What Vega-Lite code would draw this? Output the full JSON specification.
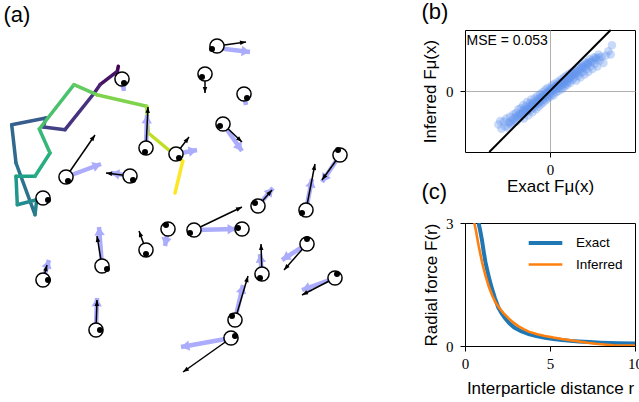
{
  "$schema": "https://vega.github.io/schema/vega-lite/v6.json",
  "background": "white",
  "padding": {"left": 0, "top": 0, "right": -4, "bottom": 0},
  "bounds": "flush",
  "spacing": 45,
  "resolve": {"scale": {"color": "independent", "strokeWidth": "independent"}, "legend": {"color": "independent", "strokeWidth": "independent"}},
  "config": {
    "view": {"stroke": null},
    "font": "Liberation Sans",
    "title": {"font": "Liberation Sans", "fontSize": 22, "fontWeight": "normal", "color": "black", "anchor": "start", "frame": "group"},
    "axis": {"labelFont": "Liberation Serif", "labelFontSize": 15, "labelColor": "black", "titleFont": "Liberation Sans", "titleFontSize": 17, "titleFontWeight": "normal", "titleColor": "black", "tickColor": "black", "tickSize": 5, "tickWidth": 1, "domain": false, "grid": false, "labelPadding": 5, "labelFlush": false, "format": "d"}
  },
  "datasets": {
    "traj": [
      {"seg": 0, "x": 118.3, "y": 63.3, "x2": 117.3, "y2": 68.3},
      {"seg": 1, "x": 117.3, "y": 68.3, "x2": 100, "y2": 81.7},
      {"seg": 2, "x": 100, "y": 81.7, "x2": 94.3, "y2": 90},
      {"seg": 3, "x": 94.3, "y": 90, "x2": 65, "y2": 126.7},
      {"seg": 4, "x": 65, "y": 126.7, "x2": 43.3, "y2": 124},
      {"seg": 5, "x": 43.3, "y": 124, "x2": 46, "y2": 115},
      {"seg": 6, "x": 46, "y": 115, "x2": 11.7, "y2": 121.7},
      {"seg": 7, "x": 11.7, "y": 121.7, "x2": 16, "y2": 160},
      {"seg": 8, "x": 16, "y": 160, "x2": 35, "y2": 211.7},
      {"seg": 9, "x": 35, "y": 211.7, "x2": 36.7, "y2": 196.7},
      {"seg": 10, "x": 36.7, "y": 196.7, "x2": 17.3, "y2": 201.7},
      {"seg": 11, "x": 17.3, "y": 201.7, "x2": 16, "y2": 173.3},
      {"seg": 12, "x": 16, "y": 173.3, "x2": 35, "y2": 173.3},
      {"seg": 13, "x": 35, "y": 173.3, "x2": 50, "y2": 150},
      {"seg": 14, "x": 50, "y": 150, "x2": 39.3, "y2": 126},
      {"seg": 15, "x": 39.3, "y": 126, "x2": 74, "y2": 81.7},
      {"seg": 16, "x": 74, "y": 81.7, "x2": 96.7, "y2": 91.7},
      {"seg": 17, "x": 96.7, "y": 91.7, "x2": 146.7, "y2": 103.3},
      {"seg": 18, "x": 146.7, "y": 103.3, "x2": 148.3, "y2": 130},
      {"seg": 19, "x": 148.3, "y": 130, "x2": 170, "y2": 148},
      {"seg": 20, "x": 170, "y": 148, "x2": 182.7, "y2": 158.3},
      {"seg": 21, "x": 182.7, "y": 158.3, "x2": 175, "y2": 190}
    ],
    "blue": [
      {"x": 217, "y": 45, "x2": 250, "y2": 49, "ang": 97},
      {"x": 244, "y": 91, "x2": 246, "y2": 102, "ang": 170},
      {"x": 223, "y": 121, "x2": 242, "y2": 148, "ang": 145},
      {"x": 122, "y": 76, "x2": 124, "y2": 88, "ang": 171},
      {"x": 146, "y": 145, "x2": 147, "y2": 112, "ang": 2},
      {"x": 176, "y": 151, "x2": 197, "y2": 147, "ang": 79},
      {"x": 66, "y": 174, "x2": 101, "y2": 161, "ang": 70},
      {"x": 130, "y": 173, "x2": 111, "y2": 170, "ang": -81},
      {"x": 194, "y": 227, "x2": 236, "y2": 226, "ang": 89},
      {"x": 258, "y": 203, "x2": 273, "y2": 185, "ang": 40},
      {"x": 306, "y": 207, "x2": 312, "y2": 176, "ang": 11},
      {"x": 340, "y": 152, "x2": 322, "y2": 179, "ang": -146},
      {"x": 168, "y": 226, "x2": 165, "y2": 243, "ang": -170},
      {"x": 102, "y": 263, "x2": 99, "y2": 224, "ang": -4},
      {"x": 43, "y": 277, "x2": 49, "y2": 257, "ang": 17},
      {"x": 96, "y": 327, "x2": 97, "y2": 295, "ang": 2},
      {"x": 262, "y": 271, "x2": 260, "y2": 251, "ang": -6},
      {"x": 307, "y": 241, "x2": 282, "y2": 257, "ang": -123},
      {"x": 335, "y": 275, "x2": 302, "y2": 287, "ang": -110},
      {"x": 235, "y": 317, "x2": 243, "y2": 282, "ang": 13},
      {"x": 231, "y": 335, "x2": 181, "y2": 344, "ang": -100}
    ],
    "black": [
      {"x": 217, "y": 43, "x2": 246, "y2": 39, "ang": 82},
      {"x": 205, "y": 71, "x2": 205, "y2": 90, "ang": 180},
      {"x": 223, "y": 121, "x2": 242, "y2": 139, "ang": 133},
      {"x": 146, "y": 145, "x2": 148, "y2": 104, "ang": 3},
      {"x": 176, "y": 151, "x2": 189, "y2": 134, "ang": 37},
      {"x": 66, "y": 174, "x2": 95, "y2": 132, "ang": 35},
      {"x": 130, "y": 173, "x2": 106, "y2": 170, "ang": -83},
      {"x": 194, "y": 227, "x2": 242, "y2": 204, "ang": 64},
      {"x": 258, "y": 203, "x2": 272, "y2": 187, "ang": 41},
      {"x": 306, "y": 207, "x2": 315, "y2": 161, "ang": 11},
      {"x": 340, "y": 152, "x2": 322, "y2": 177, "ang": -144},
      {"x": 146, "y": 247, "x2": 139, "y2": 228, "ang": -20},
      {"x": 102, "y": 263, "x2": 97, "y2": 233, "ang": -9},
      {"x": 43, "y": 277, "x2": 47, "y2": 262, "ang": 15},
      {"x": 96, "y": 327, "x2": 97, "y2": 297, "ang": 2},
      {"x": 262, "y": 271, "x2": 261, "y2": 241, "ang": -2},
      {"x": 307, "y": 241, "x2": 284, "y2": 267, "ang": -139},
      {"x": 335, "y": 275, "x2": 302, "y2": 292, "ang": -117},
      {"x": 235, "y": 317, "x2": 248, "y2": 273, "ang": 16},
      {"x": 231, "y": 335, "x2": 183, "y2": 369, "ang": -125}
    ],
    "parts": [
      {"x": 217, "y": 43, "px": 212, "py": 46},
      {"x": 205, "y": 71, "px": 202, "py": 74},
      {"x": 244, "y": 91, "px": 247, "py": 95},
      {"x": 223, "y": 121, "px": 220, "py": 123},
      {"x": 122, "y": 76, "px": 124, "py": 80},
      {"x": 146, "y": 145, "px": 145, "py": 149},
      {"x": 176, "y": 151, "px": 179, "py": 155},
      {"x": 66, "y": 174, "px": 68, "py": 178},
      {"x": 130, "y": 173, "px": 133, "py": 177},
      {"x": 43, "y": 195, "px": 48, "py": 197},
      {"x": 194, "y": 227, "px": 190, "py": 230},
      {"x": 242, "y": 226, "px": 238, "py": 225},
      {"x": 258, "y": 203, "px": 255, "py": 200},
      {"x": 306, "y": 207, "px": 302, "py": 210},
      {"x": 340, "y": 152, "px": 338, "py": 147},
      {"x": 168, "y": 226, "px": 166, "py": 222},
      {"x": 146, "y": 247, "px": 146, "py": 251},
      {"x": 102, "y": 263, "px": 107, "py": 266},
      {"x": 43, "y": 277, "px": 48, "py": 277},
      {"x": 96, "y": 327, "px": 100, "py": 327},
      {"x": 262, "y": 271, "px": 260, "py": 275},
      {"x": 307, "y": 241, "px": 307, "py": 236},
      {"x": 335, "y": 275, "px": 337, "py": 271},
      {"x": 235, "y": 317, "px": 232, "py": 313},
      {"x": 231, "y": 335, "px": 235, "py": 333}
    ],
    "scatter": [
      {"ex": -0.85, "inf": -0.55}, {"ex": -0.82, "inf": -0.49}, {"ex": -0.8, "inf": -0.62}, {"ex": -0.76, "inf": -0.5},
      {"ex": -0.74, "inf": -0.58}, {"ex": -0.72, "inf": -0.45}, {"ex": -0.7, "inf": -0.6}, {"ex": -0.68, "inf": -0.52},
      {"ex": -0.66, "inf": -0.42}, {"ex": -0.64, "inf": -0.55}, {"ex": -0.62, "inf": -0.47}, {"ex": -0.6, "inf": -0.38},
      {"ex": -0.6, "inf": -0.52}, {"ex": -0.58, "inf": -0.44}, {"ex": -0.56, "inf": -0.36}, {"ex": -0.55, "inf": -0.5},
      {"ex": -0.53, "inf": -0.41}, {"ex": -0.52, "inf": -0.3}, {"ex": -0.5, "inf": -0.45}, {"ex": -0.49, "inf": -0.37},
      {"ex": -0.48, "inf": -0.28}, {"ex": -0.46, "inf": -0.4}, {"ex": -0.45, "inf": -0.33}, {"ex": -0.44, "inf": -0.23},
      {"ex": -0.43, "inf": -0.45}, {"ex": -0.42, "inf": -0.3}, {"ex": -0.4, "inf": -0.36}, {"ex": -0.39, "inf": -0.25},
      {"ex": -0.38, "inf": -0.18}, {"ex": -0.37, "inf": -0.33}, {"ex": -0.36, "inf": -0.4}, {"ex": -0.35, "inf": -0.27},
      {"ex": -0.33, "inf": -0.2}, {"ex": -0.32, "inf": -0.31}, {"ex": -0.31, "inf": -0.14}, {"ex": -0.3, "inf": -0.24},
      {"ex": -0.29, "inf": -0.35}, {"ex": -0.28, "inf": -0.19}, {"ex": -0.27, "inf": -0.27}, {"ex": -0.25, "inf": -0.12},
      {"ex": -0.24, "inf": -0.22}, {"ex": -0.23, "inf": -0.3}, {"ex": -0.22, "inf": -0.16}, {"ex": -0.21, "inf": -0.08},
      {"ex": -0.2, "inf": -0.2}, {"ex": -0.19, "inf": -0.26}, {"ex": -0.18, "inf": -0.12}, {"ex": -0.17, "inf": -0.18},
      {"ex": -0.16, "inf": -0.05}, {"ex": -0.15, "inf": -0.22}, {"ex": -0.14, "inf": -0.1}, {"ex": -0.13, "inf": -0.15},
      {"ex": -0.12, "inf": -0.02}, {"ex": -0.11, "inf": -0.19}, {"ex": -0.1, "inf": -0.08}, {"ex": -0.09, "inf": -0.12},
      {"ex": -0.08, "inf": 0.02}, {"ex": -0.07, "inf": -0.15}, {"ex": -0.06, "inf": -0.04}, {"ex": -0.05, "inf": -0.09},
      {"ex": -0.04, "inf": 0.05}, {"ex": -0.03, "inf": -0.12}, {"ex": -0.02, "inf": -0.01}, {"ex": -0.01, "inf": -0.06},
      {"ex": 0.0, "inf": 0.04}, {"ex": 0.01, "inf": -0.09}, {"ex": 0.02, "inf": 0.01}, {"ex": 0.03, "inf": 0.09},
      {"ex": 0.04, "inf": -0.04}, {"ex": 0.05, "inf": 0.05}, {"ex": 0.06, "inf": -0.07}, {"ex": 0.07, "inf": 0.12},
      {"ex": 0.08, "inf": 0.02}, {"ex": 0.09, "inf": 0.07}, {"ex": 0.1, "inf": -0.02}, {"ex": 0.11, "inf": 0.1},
      {"ex": 0.12, "inf": 0.04}, {"ex": 0.13, "inf": 0.15}, {"ex": 0.14, "inf": 0.0}, {"ex": 0.15, "inf": 0.09},
      {"ex": 0.16, "inf": 0.13}, {"ex": 0.17, "inf": 0.05}, {"ex": 0.18, "inf": 0.19}, {"ex": 0.19, "inf": 0.09},
      {"ex": 0.2, "inf": 0.03}, {"ex": 0.21, "inf": 0.15}, {"ex": 0.22, "inf": 0.11}, {"ex": 0.23, "inf": 0.22},
      {"ex": 0.24, "inf": 0.07}, {"ex": 0.25, "inf": 0.17}, {"ex": 0.26, "inf": 0.12}, {"ex": 0.27, "inf": 0.25},
      {"ex": 0.28, "inf": 0.1}, {"ex": 0.29, "inf": 0.19}, {"ex": 0.3, "inf": 0.15}, {"ex": 0.31, "inf": 0.28},
      {"ex": 0.32, "inf": 0.2}, {"ex": 0.33, "inf": 0.13}, {"ex": 0.35, "inf": 0.24}, {"ex": 0.36, "inf": 0.31},
      {"ex": 0.37, "inf": 0.18}, {"ex": 0.38, "inf": 0.27}, {"ex": 0.4, "inf": 0.22}, {"ex": 0.41, "inf": 0.35},
      {"ex": 0.42, "inf": 0.28}, {"ex": 0.43, "inf": 0.17}, {"ex": 0.45, "inf": 0.32}, {"ex": 0.46, "inf": 0.25},
      {"ex": 0.47, "inf": 0.4}, {"ex": 0.49, "inf": 0.3}, {"ex": 0.5, "inf": 0.22}, {"ex": 0.51, "inf": 0.37},
      {"ex": 0.53, "inf": 0.43}, {"ex": 0.54, "inf": 0.31}, {"ex": 0.56, "inf": 0.39}, {"ex": 0.57, "inf": 0.27},
      {"ex": 0.58, "inf": 0.47}, {"ex": 0.6, "inf": 0.36}, {"ex": 0.62, "inf": 0.44}, {"ex": 0.63, "inf": 0.31},
      {"ex": 0.65, "inf": 0.52}, {"ex": 0.66, "inf": 0.4}, {"ex": 0.68, "inf": 0.48}, {"ex": 0.7, "inf": 0.36},
      {"ex": 0.72, "inf": 0.55}, {"ex": 0.74, "inf": 0.45}, {"ex": 0.76, "inf": 0.52}, {"ex": 0.78, "inf": 0.4},
      {"ex": 0.8, "inf": 0.6}, {"ex": 0.82, "inf": 0.5}, {"ex": 0.85, "inf": 0.56}, {"ex": 0.88, "inf": 0.46},
      {"ex": 0.92, "inf": 0.58}, {"ex": 0.96, "inf": 0.65}, {"ex": 1.02, "inf": 0.75}, {"ex": 1.0, "inf": 0.6},
      {"ex": -0.45, "inf": -0.36}, {"ex": -0.4, "inf": -0.3}, {"ex": -0.35, "inf": -0.3}, {"ex": -0.3, "inf": -0.22},
      {"ex": -0.25, "inf": -0.2}, {"ex": -0.2, "inf": -0.15}, {"ex": -0.15, "inf": -0.12}, {"ex": -0.1, "inf": -0.06},
      {"ex": -0.05, "inf": -0.03}, {"ex": 0.0, "inf": -0.01}, {"ex": 0.05, "inf": 0.03}, {"ex": 0.1, "inf": 0.07},
      {"ex": 0.15, "inf": 0.1}, {"ex": 0.2, "inf": 0.14}, {"ex": 0.25, "inf": 0.18}, {"ex": 0.3, "inf": 0.21},
      {"ex": 0.35, "inf": 0.25}, {"ex": 0.4, "inf": 0.29}, {"ex": 0.45, "inf": 0.33}, {"ex": 0.5, "inf": 0.36},
      {"ex": 0.55, "inf": 0.4}, {"ex": 0.6, "inf": 0.44}, {"ex": 0.65, "inf": 0.47}, {"ex": 0.7, "inf": 0.5},
      {"ex": -0.55, "inf": -0.42}, {"ex": -0.5, "inf": -0.39}, {"ex": -0.65, "inf": -0.5}, {"ex": 0.75, "inf": 0.55},
      {"ex": 0.8, "inf": 0.55}, {"ex": -0.28, "inf": -0.25}, {"ex": -0.18, "inf": -0.17}, {"ex": -0.08, "inf": -0.08},
      {"ex": 0.02, "inf": 0.0}, {"ex": 0.12, "inf": 0.08}, {"ex": 0.22, "inf": 0.16}, {"ex": 0.32, "inf": 0.23},
      {"ex": 0.42, "inf": 0.3}, {"ex": 0.52, "inf": 0.39}, {"ex": 0.62, "inf": 0.46}, {"ex": -0.38, "inf": -0.32}
    ],
    "force": [
      {"series": "Exact", "r": 0.8, "F": 3.0}, {"series": "Exact", "r": 0.9, "F": 2.8}, {"series": "Exact", "r": 1.0, "F": 2.58},
      {"series": "Exact", "r": 1.1, "F": 2.3}, {"series": "Exact", "r": 1.2, "F": 2.05}, {"series": "Exact", "r": 1.3, "F": 1.86},
      {"series": "Exact", "r": 1.45, "F": 1.6}, {"series": "Exact", "r": 1.6, "F": 1.38}, {"series": "Exact", "r": 1.75, "F": 1.18},
      {"series": "Exact", "r": 1.95, "F": 0.95}, {"series": "Exact", "r": 2.15, "F": 0.8}, {"series": "Exact", "r": 2.35, "F": 0.68},
      {"series": "Exact", "r": 2.6, "F": 0.56}, {"series": "Exact", "r": 2.9, "F": 0.45}, {"series": "Exact", "r": 3.3, "F": 0.36},
      {"series": "Exact", "r": 3.75, "F": 0.29}, {"series": "Exact", "r": 4.2, "F": 0.24}, {"series": "Exact", "r": 4.7, "F": 0.2},
      {"series": "Exact", "r": 5.2, "F": 0.17}, {"series": "Exact", "r": 5.7, "F": 0.145}, {"series": "Exact", "r": 6.2, "F": 0.125},
      {"series": "Exact", "r": 6.7, "F": 0.11}, {"series": "Exact", "r": 7.3, "F": 0.095}, {"series": "Exact", "r": 8.0, "F": 0.082},
      {"series": "Exact", "r": 9.0, "F": 0.07}, {"series": "Exact", "r": 10.0, "F": 0.06},
      {"series": "Inferred", "r": 0.55, "F": 3.0}, {"series": "Inferred", "r": 0.65, "F": 2.8}, {"series": "Inferred", "r": 0.8, "F": 2.45},
      {"series": "Inferred", "r": 1.0, "F": 2.05}, {"series": "Inferred", "r": 1.2, "F": 1.72}, {"series": "Inferred", "r": 1.4, "F": 1.45},
      {"series": "Inferred", "r": 1.6, "F": 1.23}, {"series": "Inferred", "r": 1.8, "F": 1.06}, {"series": "Inferred", "r": 2.0, "F": 0.94},
      {"series": "Inferred", "r": 2.25, "F": 0.81}, {"series": "Inferred", "r": 2.55, "F": 0.68}, {"series": "Inferred", "r": 2.85, "F": 0.57},
      {"series": "Inferred", "r": 3.15, "F": 0.48}, {"series": "Inferred", "r": 3.45, "F": 0.41}, {"series": "Inferred", "r": 3.75, "F": 0.35},
      {"series": "Inferred", "r": 4.2, "F": 0.29}, {"series": "Inferred", "r": 4.7, "F": 0.245}, {"series": "Inferred", "r": 5.2, "F": 0.205},
      {"series": "Inferred", "r": 5.7, "F": 0.17}, {"series": "Inferred", "r": 6.2, "F": 0.14}, {"series": "Inferred", "r": 6.7, "F": 0.11},
      {"series": "Inferred", "r": 7.2, "F": 0.08}, {"series": "Inferred", "r": 7.7, "F": 0.055}, {"series": "Inferred", "r": 8.2, "F": 0.035},
      {"series": "Inferred", "r": 8.7, "F": 0.02}, {"series": "Inferred", "r": 9.3, "F": 0.012}, {"series": "Inferred", "r": 10.0, "F": 0.008}
    ]
  },
  "hconcat": [
    {
      "width": 420,
      "height": 375,
      "title": {"text": "(a)", "dx": 3.5, "offset": 3},
      "view": {"stroke": null},
      "encoding": {
        "x": {"field": "x", "type": "quantitative", "scale": {"domain": [0, 420], "nice": false, "zero": false}, "axis": null},
        "y": {"field": "y", "type": "quantitative", "scale": {"domain": [27, 402], "nice": false, "zero": false, "reverse": true}, "axis": null}
      },
      "layer": [
        {
          "data": {"name": "traj"},
          "mark": {"type": "rule", "strokeWidth": 3.5, "strokeCap": "round"},
          "encoding": {
            "x2": {"field": "x2"},
            "y2": {"field": "y2"},
            "color": {"field": "seg", "type": "quantitative", "scale": {"scheme": "viridis", "domain": [0, 21]}, "legend": null}
          }
        },
        {
          "data": {"name": "blue"},
          "mark": {"type": "rule", "strokeWidth": 4.5, "color": "#acacfc"},
          "encoding": {"x2": {"field": "x2"}, "y2": {"field": "y2"}}
        },
        {
          "data": {"name": "blue"},
          "mark": {"type": "point", "shape": "M0,0L1,1.6L-1,1.6Z", "filled": true, "size": 110, "color": "#acacfc", "opacity": 1, "strokeWidth": 0},
          "encoding": {
            "x": {"field": "x2", "type": "quantitative"},
            "y": {"field": "y2", "type": "quantitative"},
            "angle": {"field": "ang", "type": "quantitative", "scale": null}
          }
        },
        {
          "data": {"name": "black"},
          "mark": {"type": "rule", "strokeWidth": 1.5, "color": "black"},
          "encoding": {"x2": {"field": "x2"}, "y2": {"field": "y2"}}
        },
        {
          "data": {"name": "black"},
          "mark": {"type": "point", "shape": "M0,0L0.75,2L-0.75,2Z", "filled": true, "size": 36, "color": "black", "opacity": 1, "strokeWidth": 0},
          "encoding": {
            "x": {"field": "x2", "type": "quantitative"},
            "y": {"field": "y2", "type": "quantitative"},
            "angle": {"field": "ang", "type": "quantitative", "scale": null}
          }
        },
        {
          "data": {"name": "parts"},
          "mark": {"type": "point", "shape": "circle", "filled": true, "fill": "white", "stroke": "black", "strokeWidth": 1.5, "size": 200, "opacity": 1}
        },
        {
          "data": {"name": "parts"},
          "mark": {"type": "point", "shape": "circle", "filled": true, "color": "black", "size": 36, "opacity": 1},
          "encoding": {
            "x": {"field": "px", "type": "quantitative"},
            "y": {"field": "py", "type": "quantitative"}
          }
        }
      ]
    },
    {
      "bounds": "flush",
      "spacing": 71,
      "resolve": {"scale": {"color": "independent", "strokeWidth": "independent"}, "legend": {"color": "independent", "strokeWidth": "independent"}},
      "vconcat": [
        {
          "width": 170,
          "height": 122,
          "title": {"text": "(b)", "dx": -43.5, "offset": 5},
          "view": {"stroke": "black", "strokeWidth": 1},
          "layer": [
            {
              "data": {"name": "scatter"},
              "mark": {"type": "circle", "size": 72, "opacity": 0.35, "color": "#6495ed"},
              "encoding": {
                "x": {"field": "ex", "type": "quantitative", "scale": {"domain": [-1.4, 1.4], "nice": false, "zero": false},
                  "axis": {"values": [0], "grid": true, "gridColor": "#b0b0b0", "gridWidth": 1, "title": "Exact Fμ(x)", "titleX": 85, "titleY": 26, "titleAlign": "center", "titleBaseline": "top"}},
                "y": {"field": "inf", "type": "quantitative", "scale": {"domain": [-1, 1], "nice": false, "zero": false},
                  "axis": {"values": [0], "grid": true, "gridColor": "#b0b0b0", "gridWidth": 1, "labelPadding": 7, "title": "Inferred Fμ(x)", "titleX": -35, "titleY": 61, "titleAngle": -90, "titleAlign": "center", "titleBaseline": "middle"}}
              }
            },
            {
              "data": {"values": [{}]},
              "mark": {"type": "rule", "color": "black", "strokeWidth": 2},
              "encoding": {"x": {"datum": -1}, "y": {"datum": -1}, "x2": {"datum": 1}, "y2": {"datum": 1}}
            },
            {
              "data": {"values": [{}]},
              "mark": {"type": "text", "text": "MSE = 0.053", "align": "left", "baseline": "top", "fontSize": 14, "font": "Liberation Sans", "dx": 1.5, "dy": 4, "color": "black"},
              "encoding": {"x": {"datum": -1.4}, "y": {"datum": 1}}
            }
          ]
        },
        {
          "width": 170,
          "height": 123,
          "title": {"text": "(c)", "dx": -43.5, "offset": 12},
          "view": {"stroke": "black", "strokeWidth": 1},
          "data": {"name": "force"},
          "mark": {"type": "line", "clip": true},
          "encoding": {
            "x": {"field": "r", "type": "quantitative", "scale": {"domain": [0, 10], "nice": false, "zero": false},
              "axis": {"values": [0, 5, 10], "title": "Interparticle distance r", "titleX": 85, "titleY": 34, "titleAlign": "center", "titleBaseline": "top"}},
            "y": {"field": "F", "type": "quantitative", "scale": {"domain": [0, 3], "nice": false},
              "axis": {"values": [0, 3], "labelPadding": 7, "title": "Radial force F(r)", "titleX": -34, "titleY": 61.5, "titleAngle": -90, "titleAlign": "center", "titleBaseline": "middle"}},
            "color": {"field": "series", "type": "nominal", "scale": {"domain": ["Exact", "Inferred"], "range": ["#1f77b4", "#ff7f0e"]},
              "legend": {"orient": "none", "legendX": 66.5, "legendY": 6, "title": null, "symbolType": "M-1.4,0L1.4,0", "symbolSize": 576, "labelFont": "Liberation Sans", "labelFontSize": 13.5, "labelColor": "black", "labelOffset": 16.5, "rowPadding": 0, "padding": 0}},
            "strokeWidth": {"field": "series", "type": "nominal", "scale": {"domain": ["Exact", "Inferred"], "range": [4, 2.6]},
              "legend": {"orient": "none", "legendX": 66.5, "legendY": 6, "title": null, "symbolType": "M-1.4,0L1.4,0", "symbolSize": 576, "labelFont": "Liberation Sans", "labelFontSize": 13.5, "labelColor": "black", "labelOffset": 16.5, "rowPadding": 0, "padding": 0}}
          }
        }
      ]
    }
  ]
}
